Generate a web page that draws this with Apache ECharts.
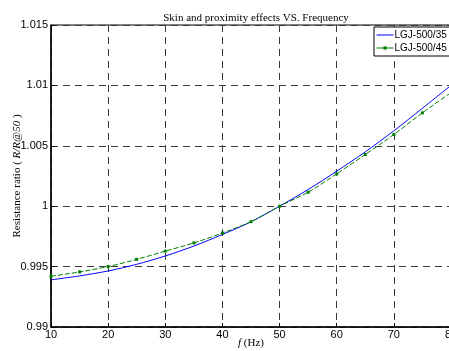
<!DOCTYPE html>
<html>
<head>
<meta charset="utf-8">
<script src="https://cdn.jsdelivr.net/npm/echarts@6/dist/echarts.min.js"></script>
<style>
  html, body { margin: 0; padding: 0; background: #fff; }
  #chart { width: 449px; height: 351px; }
</style>
</head>
<body>
<div id="chart"></div>
<script>
// Frequency samples (Hz)
const freqs = [10, 15, 20, 25, 30, 35, 40, 45, 50, 55, 60, 65, 70, 75, 80];
// Resistance ratio R/R@50 for each conductor
const lgj500_35 = [0.9939, 0.99423, 0.99464, 0.99519, 0.99588, 0.9967, 0.99766, 0.99871, 1.0, 1.00138, 1.0029, 1.0045, 1.00624, 1.00811, 1.0100];
const lgj500_45 = [0.9942, 0.99456, 0.995, 0.9956, 0.99628, 0.99696, 0.99778, 0.99872, 1.0, 1.00116, 1.00268, 1.00428, 1.00594, 1.00773, 1.0094];

const pairs = (xs, ys) => xs.map((x, i) => [x, ys[i]]);

const gridLine = { show: true, lineStyle: { color: '#3a3a3a', width: 1, type: [7, 5] } };
const sans = 'Liberation Sans, Arial, sans-serif';
const serif = 'Liberation Serif, Times New Roman, serif';

const chart = echarts.init(document.getElementById('chart'), null, { renderer: 'canvas' });
chart.setOption({
  animation: false,
  backgroundColor: '#fff',
  title: {
    text: 'Skin and proximity effects VS. Frequency',
    left: 251, top: 8, textAlign: 'center',
    textStyle: { fontFamily: serif, fontSize: 11, fontWeight: 'normal', color: '#000' }
  },
  grid: {
    left: 51, right: -2, top: 25, bottom: 24,
    outerBoundsMode: 'none', containLabel: false,
    show: true, borderColor: '#000', borderWidth: 1, backgroundColor: '#fff'
  },
  legend: {
    orient: 'vertical', left: 374, top: 27,
    backgroundColor: '#fff', borderColor: '#000', borderWidth: 1,
    padding: [3, 4, 3, 2], itemGap: 3, itemWidth: 17, itemHeight: 4,
    textStyle: { fontFamily: sans, fontSize: 10, color: '#000', padding: [0, 0, 0, -4] },
    data: [
      { name: 'LGJ-500/35', itemStyle: { opacity: 0 }, lineStyle: { width: 1 } },
      { name: 'LGJ-500/45', lineStyle: { type: 'solid', width: 1 } }
    ]
  },
  xAxis: {
    type: 'value', min: 10, max: 80, interval: 10,
    name: '{i|f} (Hz)', nameLocation: 'middle', nameGap: 11, nameMoveOverlap: false,
    nameTextStyle: {
      fontFamily: serif, fontSize: 11, color: '#000',
      rich: { i: { fontFamily: serif, fontSize: 11, fontStyle: 'italic', color: '#000' } }
    },
    axisLine: { show: true, lineStyle: { color: '#000', width: 1.5 } },
    axisTick: { show: true, inside: true, length: 4, lineStyle: { color: '#000' } },
    axisLabel: {
      fontFamily: sans, fontSize: 11, color: '#000', margin: 2,
      showMaxLabel: true, showMinLabel: true,
      formatter: v => String(v)
    },
    splitLine: gridLine
  },
  yAxis: {
    type: 'value', min: 0.99, max: 1.015, interval: 0.005,
    name: 'Resistance ratio ( {i|R/R@50} )', nameLocation: 'middle', nameGap: 28, nameMoveOverlap: false,
    nameTextStyle: {
      fontFamily: serif, fontSize: 11, color: '#000',
      rich: { i: { fontFamily: serif, fontSize: 11, fontStyle: 'italic', color: '#000' } }
    },
    axisLine: { show: true, lineStyle: { color: '#000', width: 1.5 } },
    axisTick: { show: true, inside: true, length: 4, lineStyle: { color: '#000' } },
    axisLabel: {
      fontFamily: sans, fontSize: 11, color: '#000', margin: 3,
      formatter: v => String(+v.toFixed(3))
    },
    splitLine: gridLine
  },
  series: [
    {
      name: 'LGJ-500/35', type: 'line', smooth: 0.3,
      data: pairs(freqs, lgj500_35),
      showSymbol: false, symbol: 'none',
      lineStyle: { color: '#0000ff', width: 1 },
      itemStyle: { color: '#0000ff' },
      z: 3
    },
    {
      name: 'LGJ-500/45', type: 'line', smooth: 0.3,
      data: pairs(freqs, lgj500_45),
      symbol: 'rect', symbolSize: 3,
      lineStyle: { color: '#008000', width: 1, type: [5, 2] },
      itemStyle: { color: '#008000' },
      z: 4
    }
  ]
});
</script>
</body>
</html>
